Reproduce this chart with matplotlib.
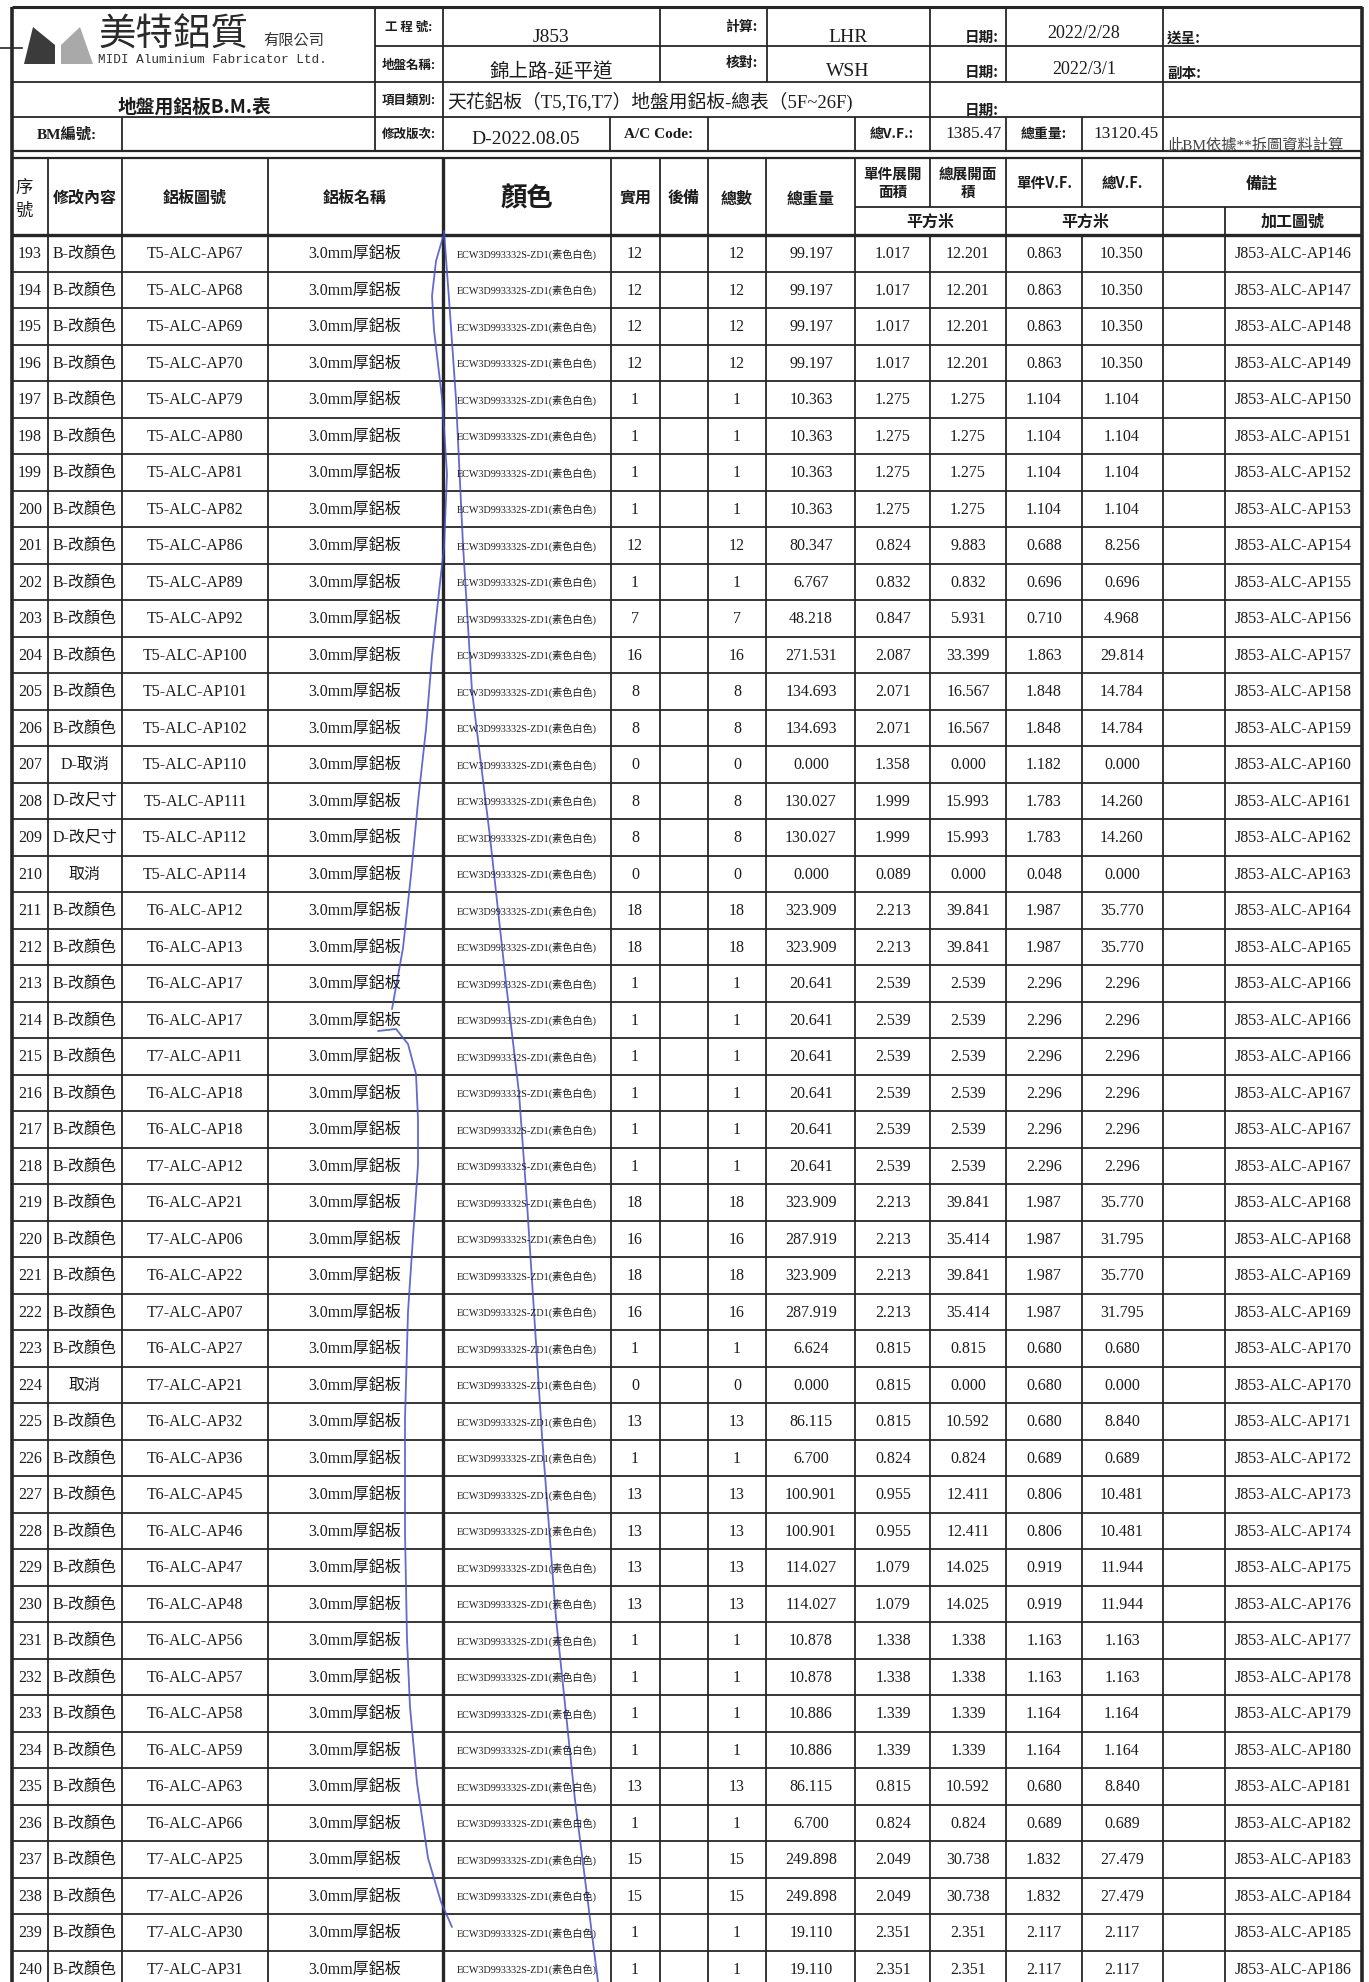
import matplotlib.pyplot as plt
from matplotlib.patches import Polygon

W, H = 1369, 1983

# ---- table data (rows 193-240) ----
seq_no = list(range(193, 241))
change = (['B-改顏色'] * 14 + ['D-取消', 'D-改尺寸', 'D-改尺寸', '取消']
          + ['B-改顏色'] * 13 + ['取消'] + ['B-改顏色'] * 16)
panel_no = ['T5-ALC-AP67', 'T5-ALC-AP68', 'T5-ALC-AP69', 'T5-ALC-AP70', 'T5-ALC-AP79',
            'T5-ALC-AP80', 'T5-ALC-AP81', 'T5-ALC-AP82', 'T5-ALC-AP86', 'T5-ALC-AP89',
            'T5-ALC-AP92', 'T5-ALC-AP100', 'T5-ALC-AP101', 'T5-ALC-AP102', 'T5-ALC-AP110',
            'T5-ALC-AP111', 'T5-ALC-AP112', 'T5-ALC-AP114', 'T6-ALC-AP12', 'T6-ALC-AP13',
            'T6-ALC-AP17', 'T6-ALC-AP17', 'T7-ALC-AP11', 'T6-ALC-AP18', 'T6-ALC-AP18',
            'T7-ALC-AP12', 'T6-ALC-AP21', 'T7-ALC-AP06', 'T6-ALC-AP22', 'T7-ALC-AP07',
            'T6-ALC-AP27', 'T7-ALC-AP21', 'T6-ALC-AP32', 'T6-ALC-AP36', 'T6-ALC-AP45',
            'T6-ALC-AP46', 'T6-ALC-AP47', 'T6-ALC-AP48', 'T6-ALC-AP56', 'T6-ALC-AP57',
            'T6-ALC-AP58', 'T6-ALC-AP59', 'T6-ALC-AP63', 'T6-ALC-AP66', 'T7-ALC-AP25',
            'T7-ALC-AP26', 'T7-ALC-AP30', 'T7-ALC-AP31']
panel_name = '3.0mm厚鋁板'
colour_code = 'ECW3D993332S-ZD1(素色白色)'
qty = [12, 12, 12, 12, 1, 1, 1, 1, 12, 1, 7, 16, 8, 8, 0, 8, 8, 0, 18, 18,
       1, 1, 1, 1, 1, 1, 18, 16, 18, 16, 1, 0, 13, 1, 13, 13, 13, 13, 1, 1,
       1, 1, 13, 1, 15, 15, 1, 1]
total_weight = [99.197, 99.197, 99.197, 99.197, 10.363, 10.363, 10.363, 10.363, 80.347, 6.767,
                48.218, 271.531, 134.693, 134.693, 0.000, 130.027, 130.027, 0.000, 323.909, 323.909,
                20.641, 20.641, 20.641, 20.641, 20.641, 20.641, 323.909, 287.919, 323.909, 287.919,
                6.624, 0.000, 86.115, 6.700, 100.901, 100.901, 114.027, 114.027, 10.878, 10.878,
                10.886, 10.886, 86.115, 6.700, 249.898, 249.898, 19.110, 19.110]
unit_area = [1.017, 1.017, 1.017, 1.017, 1.275, 1.275, 1.275, 1.275, 0.824, 0.832,
             0.847, 2.087, 2.071, 2.071, 1.358, 1.999, 1.999, 0.089, 2.213, 2.213,
             2.539, 2.539, 2.539, 2.539, 2.539, 2.539, 2.213, 2.213, 2.213, 2.213,
             0.815, 0.815, 0.815, 0.824, 0.955, 0.955, 1.079, 1.079, 1.338, 1.338,
             1.339, 1.339, 0.815, 0.824, 2.049, 2.049, 2.351, 2.351]
total_area = [12.201, 12.201, 12.201, 12.201, 1.275, 1.275, 1.275, 1.275, 9.883, 0.832,
              5.931, 33.399, 16.567, 16.567, 0.000, 15.993, 15.993, 0.000, 39.841, 39.841,
              2.539, 2.539, 2.539, 2.539, 2.539, 2.539, 39.841, 35.414, 39.841, 35.414,
              0.815, 0.000, 10.592, 0.824, 12.411, 12.411, 14.025, 14.025, 1.338, 1.338,
              1.339, 1.339, 10.592, 0.824, 30.738, 30.738, 2.351, 2.351]
unit_vf = [0.863, 0.863, 0.863, 0.863, 1.104, 1.104, 1.104, 1.104, 0.688, 0.696,
           0.710, 1.863, 1.848, 1.848, 1.182, 1.783, 1.783, 0.048, 1.987, 1.987,
           2.296, 2.296, 2.296, 2.296, 2.296, 2.296, 1.987, 1.987, 1.987, 1.987,
           0.680, 0.680, 0.680, 0.689, 0.806, 0.806, 0.919, 0.919, 1.163, 1.163,
           1.164, 1.164, 0.680, 0.689, 1.832, 1.832, 2.117, 2.117]
total_vf = [10.350, 10.350, 10.350, 10.350, 1.104, 1.104, 1.104, 1.104, 8.256, 0.696,
            4.968, 29.814, 14.784, 14.784, 0.000, 14.260, 14.260, 0.000, 35.770, 35.770,
            2.296, 2.296, 2.296, 2.296, 2.296, 2.296, 35.770, 31.795, 35.770, 31.795,
            0.680, 0.000, 8.840, 0.689, 10.481, 10.481, 11.944, 11.944, 1.163, 1.163,
            1.164, 1.164, 8.840, 0.689, 27.479, 27.479, 2.117, 2.117]
proc_no = [146, 147, 148, 149, 150, 151, 152, 153, 154, 155, 156, 157, 158, 159, 160,
           161, 162, 163, 164, 165, 166, 166, 166, 167, 167, 167, 168, 168, 169, 169,
           170, 170, 171, 172, 173, 174, 175, 176, 177, 178, 179, 180, 181, 182, 183,
           184, 185, 186]

# handwritten pen strokes over the colour column (pixel coords)
pen_a = [(444, 232), (449, 300), (456, 400), (463, 546), (472, 692), (490, 838),
         (506, 984), (519, 1094), (527, 1204), (542, 1437), (556, 1619), (575, 1801), (598, 1983)]
pen_b = [(443, 238), (436, 262), (432, 297), (434, 331), (442, 399), (447, 475), (444, 549),
         (440, 584), (432, 657), (426, 730), (418, 803), (411, 876), (403, 949), (392, 1010)]
pen_c = [(378, 1032), (396, 1030), (408, 1045), (416, 1075), (418, 1120), (418, 1166),
         (413, 1238), (408, 1313), (405, 1420), (405, 1533), (407, 1640), (410, 1708),
         (417, 1784), (428, 1859), (441, 1903), (452, 1928)]

SERIF = ['Liberation Serif', 'Noto Sans CJK TC']
CJK = ['Noto Sans CJK TC', 'DejaVu Sans']
INK = '#1c1c1c'
LINE = '#262626'

fig = plt.figure(figsize=(W / 100, H / 100), dpi=100)
ax = fig.add_axes([0, 0, 1, 1])
ax.set_xlim(0, W)
ax.set_ylim(H, 0)
ax.axis('off')


def txt(x, y, s, size=11.5, ha='center', fam=SERIF, weight='normal', color=INK):
    ax.text(x, y, s, ha=ha, va='center', fontsize=size, family=fam,
            fontweight=weight, color=color)


def hl(y, x0, x1, lw=1.3):
    ax.plot([x0, x1], [y, y], color=LINE, lw=lw, solid_capstyle='butt')


def vl(x, y0, y1, lw=1.3):
    ax.plot([x, x], [y0, y1], color=LINE, lw=lw, solid_capstyle='butt')


L, R = 12, 1362
top, r1, r2, r3, r4, hd0, sub, hd1 = 8, 47, 83, 118, 152, 159, 208, 236
row_h = 36.5

# ---- header block lines ----
hl(top, L, R, 2.2)
hl(r1, 375, R)
hl(r2, L, R)
hl(r3, L, R)
hl(r4, L, R, 1.6)
hl(hd0, L, R, 1.6)
hl(sub, 855, R)
hl(hd1, L, R, 2.4)
ax.plot([0, 22], [49, 49], color=LINE, lw=1.2)
for x in [375, 443, 660, 767, 930, 1006, 1163]:
    vl(x, top, r2)
for x in [375, 443, 930, 1163]:
    vl(x, r2, r3)
for x in [122, 375, 443, 610, 708, 855, 930, 1006, 1082, 1163]:
    vl(x, r3, r4)

# ---- column lines ----
cols = [48, 122, 268, 443, 611, 660, 708, 766, 855, 930, 1006, 1082, 1163, 1225]
for x in cols:
    if x in (930, 1082):
        vl(x, hd0, sub)
        vl(x, hd1, H)
    elif x == 1225:
        vl(x, sub, H)
    else:
        vl(x, hd0, H, 2.4 if x == 443 else 1.3)
vl(L, top, H, 2.6)
vl(R, top, H, 2.6)

# ---- data row lines ----
n_rows = len(seq_no)
for i in range(1, n_rows + 1):
    y = hd1 + i * row_h
    if y < H:
        hl(y, L, R)

# ---- logo & company ----
ax.add_patch(Polygon([(24, 65), (33, 28), (55, 46), (55, 65)], closed=True,
                     facecolor='#3b3b3b', edgecolor='none'))
ax.add_patch(Polygon([(61, 65), (61, 46), (80, 28), (93, 65)], closed=True,
                     facecolor='#a9a9a9', edgecolor='none'))
txt(98, 35, '美特鋁質', size=27, ha='left', fam=CJK, color='#2a2a2a')
txt(263, 40, '有限公司', size=11, ha='left', fam=CJK, color='#333333')
txt(98, 60, 'MIDI Aluminium Fabricator Ltd.', size=9.2, ha='left',
    fam=['Liberation Mono', 'DejaVu Sans Mono'], color='#333333')
txt(194, 107, '地盤用鋁板B.M.表', size=13.5, fam=CJK, weight='bold')
txt(67, 135, 'BM編號:', size=11, fam=SERIF, weight='bold')

# ---- header labels ----
lab_x = 409
txt(lab_x, 27, '工 程 號:', size=9, fam=CJK, weight='bold')
txt(lab_x, 65, '地盤名稱:', size=9, fam=CJK, weight='bold')
txt(lab_x, 100, '項目類別:', size=9, fam=CJK, weight='bold')
txt(lab_x, 134, '修改版次:', size=9, fam=CJK, weight='bold')

txt(551, 37, 'J853', size=14)
txt(551, 72, '錦上路-延平道', size=14)
txt(447, 102, '天花鋁板（T5,T6,T7）地盤用鋁板-總表（5F~26F)', size=13.5, ha='left')
txt(526, 140, 'D-2022.08.05', size=14)

txt(758, 27, '計算:', size=10, ha='right', fam=CJK, weight='bold')
txt(758, 63, '核對:', size=10, ha='right', fam=CJK, weight='bold')
txt(848, 37, 'LHR', size=14)
txt(848, 72, 'WSH', size=14)
txt(659, 135, 'A/C Code:', size=11, fam=SERIF, weight='bold')

for y in (37, 72):
    txt(999, y, '日期:', size=10.5, ha='right', fam=CJK, weight='bold')
txt(999, 110, '日期:', size=10.5, ha='right', fam=CJK, weight='bold')
txt(1084, 34, '2022/2/28', size=13)
txt(1084, 69, '2022/3/1', size=13)
txt(1167, 38, '送呈:', size=10.5, ha='left', fam=CJK, weight='bold')
txt(1167, 73, '副本:', size=10.5, ha='left', fam=CJK, weight='bold')

txt(892, 134, '總V.F.:', size=10, fam=CJK, weight='bold')
txt(1002, 134, '1385.47', size=12.5, ha='right')
txt(1044, 134, '總重量:', size=10, fam=CJK, weight='bold')
txt(1159, 134, '13120.45', size=12.5, ha='right')
txt(1167, 145, '此BM依據**拆圖資料計算', size=11, ha='left', fam=SERIF, color='#444444')

# ---- column headers ----
hb = dict(fam=CJK, weight='bold', size=11.5)
txt(24, 188, '序', fam=CJK, size=12.5)
txt(24, 211, '號', fam=CJK, size=12.5)
txt(85, 198, '修改內容', **hb)
txt(195, 198, '鋁板圖號', **hb)
txt(355, 198, '鋁板名稱', **hb)
txt(527, 199, '顏色', fam=CJK, weight='bold', size=19)
txt(635, 198, '實用', **hb)
txt(684, 198, '後備', **hb)
txt(737, 199, '總數', **hb)
txt(811, 199, '總重量', **hb)
txt(893, 183, '單件展開\n面積', fam=CJK, weight='bold', size=10.5)
txt(968, 183, '總展開面\n積', fam=CJK, weight='bold', size=10.5)
txt(1044, 183, '單件V.F.', fam=CJK, weight='bold', size=10.5)
txt(1122, 183, '總V.F.', fam=CJK, weight='bold', size=10.5)
txt(1262, 184, '備註', **hb)
txt(930, 222, '平方米', **hb)
txt(1085, 222, '平方米', **hb)
txt(1293, 222, '加工圖號', **hb)

# ---- data rows ----
for i in range(n_rows):
    y = hd1 + (i + 0.5) * row_h
    txt(30, y, str(seq_no[i]))
    txt(85, y, change[i])
    txt(195, y, panel_no[i])
    txt(355, y, panel_name)
    txt(527, y, colour_code, size=7.3)
    txt(635, y, str(qty[i]))
    txt(737, y, str(qty[i]))
    txt(811, y, f'{total_weight[i]:.3f}')
    txt(893, y, f'{unit_area[i]:.3f}')
    txt(968, y, f'{total_area[i]:.3f}')
    txt(1044, y, f'{unit_vf[i]:.3f}')
    txt(1122, y, f'{total_vf[i]:.3f}')
    txt(1293, y, f'J853-ALC-AP{proc_no[i]}')

# ---- pen strokes ----
for stroke in (pen_a, pen_b, pen_c):
    xs, ys = zip(*stroke)
    ax.plot(xs, ys, color='#4a50c4', lw=1.3, alpha=0.85, solid_capstyle='round')

fig.savefig('out.png', dpi=100)
